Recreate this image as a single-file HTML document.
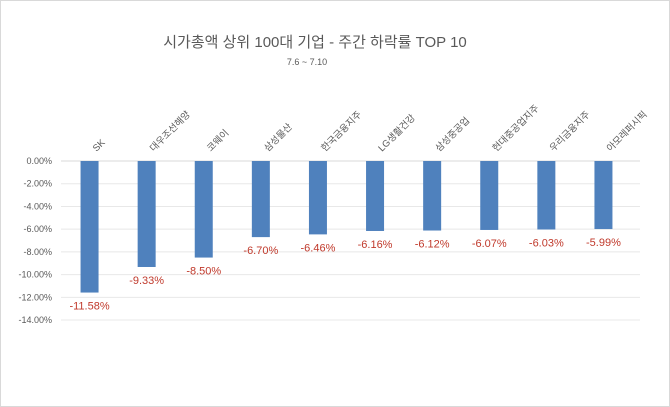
<!DOCTYPE html>
<html><head><meta charset="utf-8"><style>
body{margin:0;background:#fff}
svg{display:block}
text{font-family:"Liberation Sans","Noto Sans CJK KR",sans-serif}
</style></head><body>
<svg id="chart" width="670" height="407" xmlns="http://www.w3.org/2000/svg">
<rect x="0.5" y="0.5" width="669" height="406" fill="#fff" stroke="#d9d9d9"/>
<text x="315" y="47" text-anchor="middle" font-size="15" fill="#595959">시가총액 상위 100대 기업 - 주간 하락률 TOP 10</text>
<text x="307" y="65" text-anchor="middle" font-size="9" fill="#595959">7.6 ~ 7.10</text>
<g id="grid"></g><g id="bars"></g>
</svg>
<script>
const categories=["SK","대우조선해양","코웨이","삼성물산","한국금융지주","LG생활건강","삼성중공업","현대중공업지주","우리금융지주","아모레퍼시픽"];
const values=[-11.58,-9.33,-8.50,-6.70,-6.46,-6.16,-6.12,-6.07,-6.03,-5.99];
const ticks=[0,-2,-4,-6,-8,-10,-12,-14];
const NS="http://www.w3.org/2000/svg";
const y0=161,pxPer=11.36,left=61,band=57.1,bw=18;
function Y(v){return y0-v*pxPer;}
function X(i){return left+band*(i+0.5);}
const grid=document.getElementById('grid'),bars=document.getElementById('bars');
function mk(t,a,p){const e=document.createElementNS(NS,t);for(const k in a)e.setAttribute(k,a[k]);p.appendChild(e);return e;}
ticks.forEach(t=>{
 const l=mk('line',{x1:61,x2:640,y1:Y(t),y2:Y(t),stroke:t===0?'#d9d9d9':'#e8e8e8','stroke-width':1},grid);
 
 
 const tx=mk('text',{x:52,y:Y(t)+3,'text-anchor':'end','font-size':9,fill:'#595959'},grid);
 tx.textContent=t.toFixed(2)+'%';
 
 
});
categories.forEach((c,i)=>{
 const v=values[i],cx=X(i);
 const r=mk('rect',{x:cx-bw/2,y:Y(0),width:bw,height:Y(v)-Y(0),fill:'#4f81bd'},bars);
 
 
 const vl=mk('text',{x:cx,y:Y(v)+17,'text-anchor':'middle','font-size':11,fill:'#c0392b'},bars);
 vl.textContent=v.toFixed(2)+'%';
 
 
 const cl=mk('text',{x:cx+7,y:152,'text-anchor':'start','font-size':9.5,fill:'#595959',transform:`rotate(-45 ${cx+7} 152)`},bars);
 cl.textContent=c;
 
 
});
</script>
</body></html>
